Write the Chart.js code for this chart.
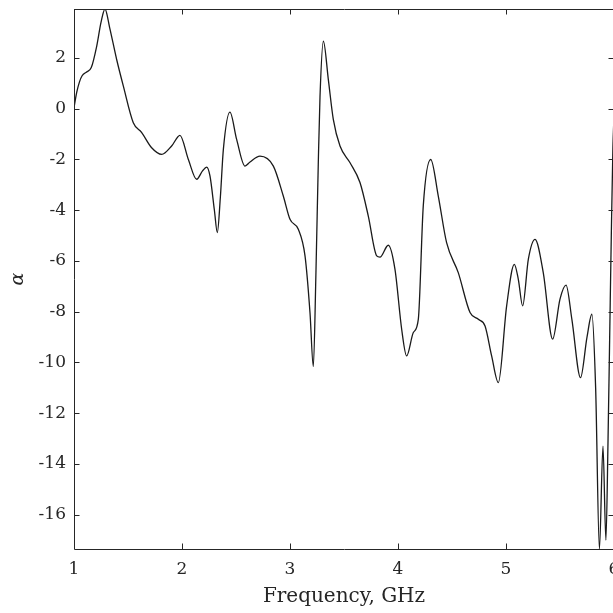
<!DOCTYPE html>
<html>
<head>
<meta charset="utf-8">
<script src="https://cdn.jsdelivr.net/npm/chart.js@4/dist/chart.umd.min.js"></script>
<style>
  html, body { margin: 0; padding: 0; background: #fff; overflow: hidden; }
  #wrap { width: 620px; height: 613px; }
</style>
</head>
<body>
<div id="wrap"><canvas id="c" width="620" height="613"></canvas></div>
<script>
// ---- data ----
const freqGHz = [
  1.000, 1.025, 1.050, 1.075, 1.117, 1.160, 1.210, 1.250, 1.287, 1.330,
  1.395, 1.457, 1.549, 1.627, 1.719, 1.812, 1.904, 1.981, 2.059, 2.136,
  2.190, 2.228, 2.259, 2.300, 2.327, 2.355, 2.383, 2.444, 2.506, 2.583,
  2.630, 2.722, 2.846, 2.938, 3.000, 3.077, 3.139, 3.185, 3.216, 3.240,
  3.262, 3.278, 3.309, 3.355, 3.401, 3.463, 3.556, 3.648, 3.725, 3.803,
  3.833, 3.910, 3.972, 4.034, 4.080, 4.142, 4.188, 4.234, 4.303, 4.373,
  4.450, 4.558, 4.667, 4.744, 4.806, 4.867, 4.929, 5.006, 5.077, 5.114,
  5.154, 5.207, 5.269, 5.345, 5.432, 5.500, 5.556, 5.610, 5.690, 5.750,
  5.795, 5.830, 5.865, 5.898, 5.925, 5.945, 5.960, 5.975, 5.990, 6.000
];
const alphaVals = [
  0.04, 0.64, 1.05, 1.30, 1.45, 1.62, 2.46, 3.40, 3.93, 3.20,
  1.94, 0.89, -0.55, -0.94, -1.54, -1.80, -1.47, -1.05, -2.00, -2.78,
  -2.45, -2.30, -2.65, -4.00, -4.88, -3.50, -1.60, -0.13, -1.21, -2.26,
  -2.10, -1.87, -2.26, -3.44, -4.36, -4.75, -5.80, -8.03, -10.16, -6.50,
  -2.13, 0.50, 2.66, 1.15, -0.42, -1.47, -2.13, -2.91, -4.23, -5.80,
  -5.85, -5.38, -6.33, -8.69, -9.74, -8.82, -8.30, -3.83, -2.00, -3.44,
  -5.28, -6.46, -8.03, -8.30, -8.56, -9.74, -10.79, -7.77, -6.13, -6.72,
  -7.77, -5.93, -5.15, -6.46, -9.08, -7.50, -6.95, -8.30, -10.60, -9.00,
  -8.10, -11.00, -17.35, -13.30, -17.00, -13.00, -9.00, -5.00, -1.50, -0.30
];
const xTicks = [1, 2, 3, 4, 5, 6];
const yTicks = [2, 0, -2, -4, -6, -8, -10, -12, -14, -16];
const xRange = [1, 6];
const yRange = [-17.35, 3.93];

const axisColor = '#262626';
const serif = "'DejaVu Serif', 'Liberation Serif', serif";

const boxTicks = {
  id: 'boxTicks',
  afterDatasetsDraw(chart) {
    const { ctx, chartArea: { left, right, top, bottom }, scales: { x, y } } = chart;
    const L = 5.5;
    ctx.save();
    ctx.strokeStyle = axisColor;
    ctx.lineWidth = 1;
    ctx.beginPath();
    ctx.rect(Math.round(left) + 0.5, Math.round(top) + 0.5, Math.round(right - left), Math.round(bottom - top));
    xTicks.forEach(v => {
      const px = Math.round(x.getPixelForValue(v)) + 0.5;
      ctx.moveTo(px, bottom); ctx.lineTo(px, bottom - L);
      ctx.moveTo(px, top); ctx.lineTo(px, top + L);
    });
    yTicks.forEach(v => {
      const py = Math.round(y.getPixelForValue(v)) + 0.5;
      ctx.moveTo(left, py); ctx.lineTo(left + L, py);
      ctx.moveTo(right, py); ctx.lineTo(right - L, py);
    });
    ctx.stroke();
    ctx.restore();
  }
};

new Chart(document.getElementById('c'), {
  type: 'line',
  data: {
    datasets: [{
      data: freqGHz.map((f, i) => ({ x: f, y: alphaVals[i] })),
      borderColor: '#1a1a1a',
      borderWidth: 1.3,
      pointRadius: 0,
      fill: false,
      cubicInterpolationMode: 'monotone'
    }]
  },
  options: {
    responsive: false,
    animation: false,
    layout: { padding: { top: 9, right: 6, left: 0, bottom: 0 } },
    plugins: { legend: { display: false }, tooltip: { enabled: false } },
    scales: {
      x: {
        type: 'linear',
        min: xRange[0], max: xRange[1],
        afterBuildTicks: s => { s.ticks = xTicks.map(v => ({ value: v })); },
        afterFit: s => { s.height = 64; s.paddingLeft = 0; s.paddingRight = 0; },
        grid: { display: true, drawOnChartArea: false, drawTicks: false },
        border: { display: false },
        ticks: { color: axisColor, padding: 10, maxRotation: 0, font: { family: serif, size: 17 },
                 callback: v => String(v) },
        title: { display: true, text: 'Frequency, GHz', color: axisColor, padding: { top: 0, bottom: 4 },
                 font: { family: serif, size: 20 } }
      },
      y: {
        type: 'linear',
        min: yRange[0], max: yRange[1],
        afterBuildTicks: s => { s.ticks = yTicks.map(v => ({ value: v })); },
        afterFit: s => { s.width = 74; s.paddingTop = 0; s.paddingBottom = 0; },
        grid: { display: true, drawOnChartArea: false, drawTicks: false },
        border: { display: false },
        ticks: { color: axisColor, padding: 8, font: { family: serif, size: 17 },
                 callback: v => String(v) },
        title: { display: true, text: 'α', color: axisColor, padding: { top: 7, bottom: 0 },
                 font: { family: serif, size: 19, style: 'italic' } }
      }
    }
  },
  plugins: [boxTicks]
});
</script>
</body>
</html>
